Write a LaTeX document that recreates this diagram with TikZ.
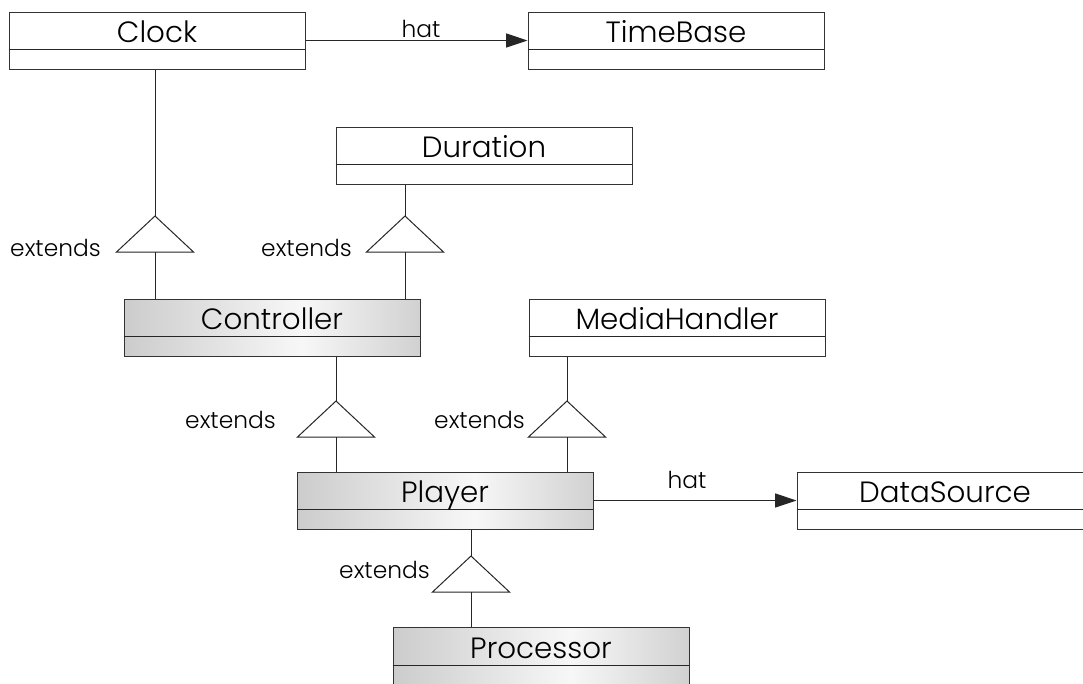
\documentclass[tikz,border=0pt]{standalone}
\usepackage{fontspec}
\setmainfont{Poppins}[UprightFont={* Light}]
\usetikzlibrary{arrows.meta}

% horizontal grey-white-grey fill of the highlighted classes
\pgfdeclarehorizontalshading{clsshade}{100bp}{%
  color(0bp)=(black!20); color(25bp)=(black!20);
  color(55bp)=(black!3); color(75bp)=(black!18); color(100bp)=(black!18)}

\tikzset{
  clsbox/.style={draw=black!80, line width=0.75pt, rectangle, inner sep=0pt,
                 minimum width=222pt, minimum height=42.75pt},
  plain/.style={fill=white},
  shaded/.style={shading=clsshade},
  divider/.style={draw=black!85, line width=0.75pt},
  clstitle/.style={inner sep=0pt, font=\fontsize{22pt}{26pt}\selectfont},
  lbl/.style={inner sep=0pt, font=\fontsize{17.5pt}{21pt}\selectfont},
  link/.style={draw=black!85, line width=0.75pt},
  assoc/.style={link, -{Triangle[length=16pt,width=10.5pt]}},
  gen/.style={draw=black!85, line width=0.75pt, fill=white, line join=miter},
}

% \umlclass{name}{left x}{top y}{title}{fill style}
\newcommand{\umlclass}[5]{%
  \node[clsbox,#5] (#1) at (#2+148,#3+28.5) {};
  \draw[divider] (#1.north west) ++(0,38) -- ++(296,0);
  \node[clstitle, anchor=base] (#1-t) at ([yshift=-23.25pt]#1.north) {#4};
}

% \gentri{name}{apex x}{apex y}: generalization triangle, apex up
\newcommand{\gentri}[3]{%
  \coordinate (#1) at (#2,#3);
  \coordinate (#1-b) at (#2,#3+36);
  \draw[gen] (#1) -- ++(-38.5,36) -- ++(77,0) -- cycle;
}

\begin{document}
\begin{tikzpicture}[x=0.75pt, y=-0.75pt]
  \useasboundingbox (0,0) rectangle (1083,683);

  % classes
  \umlclass{clock}{9}{12}{Clock}{plain}
  \umlclass{timebase}{528}{12}{TimeBase}{plain}
  \umlclass{duration}{336}{127}{Duration}{plain}
  \umlclass{controller}{124}{299}{Controller}{shaded}
  \umlclass{mediahandler}{529}{299}{MediaHandler}{plain}
  \umlclass{player}{297}{472}{Player}{shaded}
  \umlclass{datasource}{797}{472}{DataSource}{plain}
  \umlclass{processor}{393}{627.5}{Processor}{shaded}

  % associations
  \draw[assoc] (clock.east) -- (timebase.west);
  \node[lbl, anchor=base] (hat1) at (421,37) {hat};
  \draw[assoc] (player.east) -- (datasource.west);
  \node[lbl, anchor=base] (hat2) at (687,488) {hat};

  % Controller extends Clock
  \gentri{g1}{155}{216}
  \draw[link] (g1 |- clock.south) -- (g1);
  \draw[link] (g1-b) -- (g1-b |- controller.north);
  \node[lbl, anchor=base east] (e1) at (101,256) {extends};

  % Controller extends Duration
  \gentri{g2}{405}{216}
  \draw[link] (g2 |- duration.south) -- (g2);
  \draw[link] (g2-b) -- (g2-b |- controller.north);
  \node[lbl, anchor=base east] (e2) at (352,256) {extends};

  % Player extends Controller
  \gentri{g3}{336}{401}
  \draw[link] (g3 |- controller.south) -- (g3);
  \draw[link] (g3-b) -- (g3-b |- player.north);
  \node[lbl, anchor=base east] (e3) at (276,428) {extends};

  % Player extends MediaHandler
  \gentri{g4}{567}{401}
  \draw[link] (g4 |- mediahandler.south) -- (g4);
  \draw[link] (g4-b) -- (g4-b |- player.north);
  \node[lbl, anchor=base east] (e4) at (525,428) {extends};

  % Processor extends Player
  \gentri{g5}{471}{556}
  \draw[link] (g5 |- player.south) -- (g5);
  \draw[link] (g5-b) -- (g5-b |- processor.north);
  \node[lbl, anchor=base east] (e5) at (430,578) {extends};
\end{tikzpicture}
\end{document}
